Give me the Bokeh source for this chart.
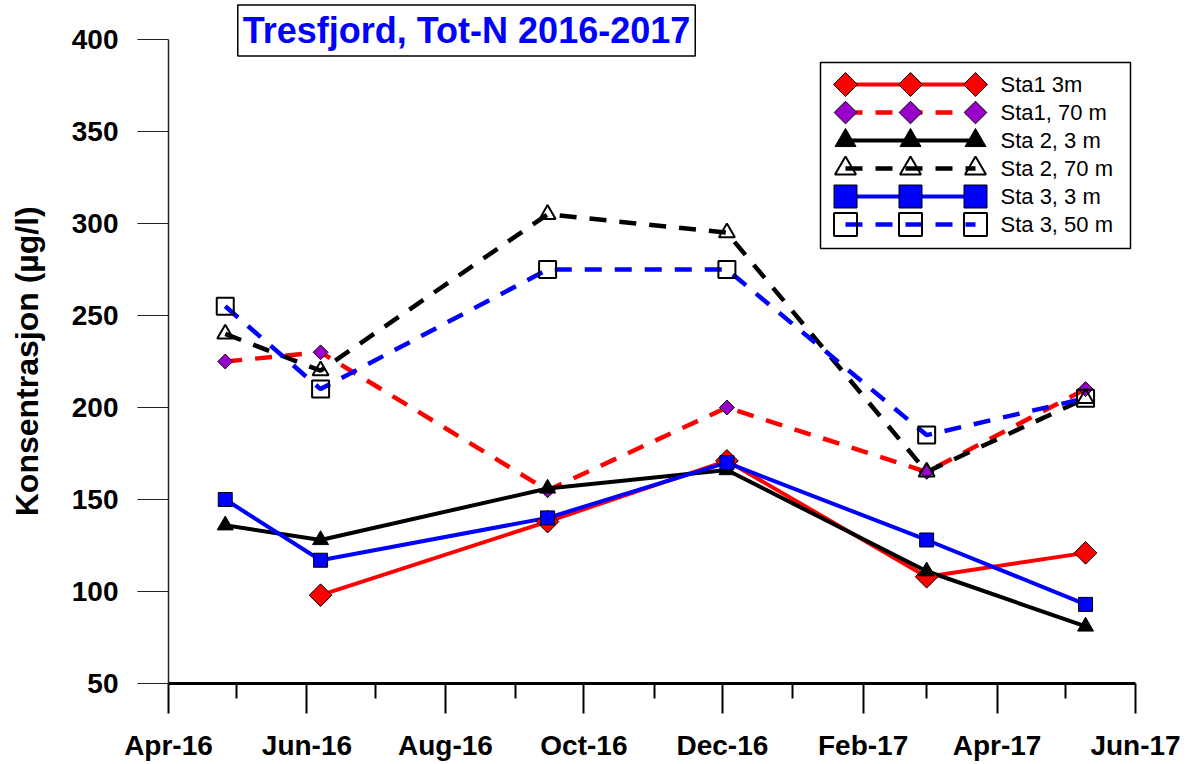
import numpy as np
from bokeh.plotting import figure
from bokeh.models import Range1d, FixedTicker, DatetimeTickFormatter, Label
from bokeh.core.properties import value
from bokeh.embed import file_html
from bokeh.resources import INLINE

# ---------------- data ----------------
sample_dates = ["2016-04-26", "2016-06-07", "2016-09-15", "2016-12-03", "2017-03-01", "2017-05-10"]
sta1_3m = [np.nan, 98, 138, 171, 108, 121]
sta1_70m = [225, 230, 155, 200, 165, 210]
sta2_3m = [136, 128, 156, 166, 111, 81]
sta2_70m = [240, 220, 305, 295, 165, 205]
sta3_3m = [150, 117, 140, 170, 128, 93]
sta3_50m = [255, 210, 275, 275, 185, 205]
series_names = ["Sta1 3m", "Sta1, 70 m", "Sta 2, 3 m", "Sta 2, 70 m", "Sta 3, 3 m", "Sta 3, 50 m"]
major_tick_dates = ["2016-04-01", "2016-06-01", "2016-08-01", "2016-10-01",
                    "2016-12-01", "2017-02-01", "2017-04-01", "2017-06-01"]
minor_tick_dates = ["2016-05-01", "2016-07-01", "2016-09-01", "2016-11-01",
                    "2017-01-01", "2017-03-01", "2017-05-01"]
y_ticks = [50, 100, 150, 200, 250, 300, 350, 400]
title_text = "Tresfjord, Tot-N 2016-2017"
y_label = "Konsentrasjon (µg/l)"


def to_ms(s):
    return float(np.datetime64(s, "ms").astype("int64"))


x = [to_ms(d) for d in sample_dates]

# ---------------- layout ----------------
W, H = 1186, 764
BL, BR, BT, BB = 168, 51, 3, 81
FW, FH = W - BL - BR, H - BT - BB
AXIS_PX = 644                      # pixel height of the 50..400 axis
FONT = "Liberation Sans"
y_lo, y_hi = y_ticks[0], y_ticks[-1]
y_top = y_lo + (y_hi - y_lo) * FH / AXIS_PX   # extra head-room for the title box

p = figure(width=W, height=H, output_backend="svg", toolbar_location=None,
           x_axis_type="datetime",
           x_range=Range1d(to_ms(major_tick_dates[0]), to_ms(major_tick_dates[-1])),
           y_range=Range1d(y_lo, y_top),
           min_border_left=BL, min_border_right=BR, min_border_top=BT, min_border_bottom=BB)
p.outline_line_color = None
p.xgrid.visible = False
p.ygrid.visible = False
p.background_fill_color = "white"
p.border_fill_color = "white"

xa = p.xaxis[0]
xa.ticker = FixedTicker(ticks=[to_ms(d) for d in major_tick_dates],
                        minor_ticks=[to_ms(d) for d in minor_tick_dates])
fmt = "%b-%y"
xa.formatter = DatetimeTickFormatter(days=fmt, months=fmt, years=fmt, hours=fmt,
                                     hourmin=fmt, minutes=fmt, minsec=fmt, seconds=fmt,
                                     milliseconds=fmt, microseconds=fmt)
xa.axis_line_width = 3
xa.axis_line_color = "black"
xa.major_tick_line_width = 2
xa.minor_tick_line_width = 2
xa.major_tick_in = 0
xa.major_tick_out = 30
xa.minor_tick_in = 0
xa.minor_tick_out = 15
xa.major_label_standoff = 16
xa.major_label_text_font = FONT
xa.major_label_text_font_style = "bold"
xa.major_label_text_font_size = "28px"
xa.major_label_text_color = "black"

ya = p.yaxis[0]
ya.bounds = (y_lo, y_hi)
ya.ticker = FixedTicker(ticks=y_ticks)
ya.axis_line_width = 1.5
ya.axis_line_color = "#222222"
ya.major_tick_in = 0
ya.major_tick_out = 31
ya.major_tick_line_width = 1.2
ya.major_tick_line_color = "#222222"
ya.minor_tick_line_color = None
ya.major_label_standoff = 19
ya.major_label_text_font = FONT
ya.major_label_text_font_style = "bold"
ya.major_label_text_font_size = "28px"
ya.major_label_text_color = "black"
# trailing no-break spaces re-centre the label on the 50..400 axis span (frame is taller)
ya.axis_label = y_label + "\u00a0" * 4
ya.axis_label_text_font = FONT
ya.axis_label_text_font_style = "bold"
ya.axis_label_text_font_size = "32px"
ya.axis_label_text_color = "black"
ya.axis_label_standoff = 24

# ---------------- series ----------------
DASH = "17 13"
styles = [
    dict(vals=sta1_3m, color="#FF0000", dash="solid", marker="square", angle=np.pi / 4,
         fill="#FF0000", size=16, lsize=17),
    dict(vals=sta1_70m, color="#FF0000", dash=DASH, marker="square", angle=np.pi / 4,
         fill="#9900CC", size=10.5, lsize=16),
    dict(vals=sta2_3m, color="#000000", dash="solid", marker="triangle", angle=0,
         fill="#000000", size=16, lsize=21),
    dict(vals=sta2_70m, color="#000000", dash=DASH, marker="triangle", angle=0,
         fill=None, size=16, lsize=21),
    dict(vals=sta3_3m, color="#0000FF", dash="solid", marker="square", angle=0,
         fill="#0000FF", size=14, lsize=23),
    dict(vals=sta3_50m, color="#0000FF", dash=DASH, marker="square", angle=0,
         fill=None, size=17, lsize=23),
]

for st in styles:
    p.line(x, st["vals"], line_color=st["color"], line_width=4.5 if st["dash"] != "solid" else 4,
           line_dash=st["dash"])
for st in styles:
    open_marker = st["fill"] is None
    p.scatter(x, st["vals"], marker=st["marker"], size=st["size"], angle=st["angle"],
              fill_color=st["fill"], line_color="black",
              line_width=2 if open_marker else 1)

# ---------------- legend (drawn in page-pixel space) ----------------
p.extra_x_ranges["px"] = Range1d(BL, BL + FW)
p.extra_y_ranges["px"] = Range1d(BT + FH, BT)
p.quad(left=820, right=1130, top=62, bottom=248, x_range_name="px", y_range_name="px",
       fill_color="white", line_color="black", line_width=1.5)
gx = [845, 910, 975]
row_y = [84 + 28 * i for i in range(len(series_names))]
for ry, st in zip(row_y, styles):
    p.line(gx, [ry] * 3, x_range_name="px", y_range_name="px",
           line_color=st["color"], line_width=4.5 if st["dash"] != "solid" else 4,
           line_dash=st["dash"])
    open_marker = st["fill"] is None
    p.scatter(gx, [ry] * 3, x_range_name="px", y_range_name="px",
              marker=st["marker"], size=st["lsize"], angle=st["angle"],
              fill_color=st["fill"], line_color="black",
              line_width=2 if open_marker else 1)
p.text(x=[1000] * len(series_names), y=row_y,
       text=series_names, x_range_name="px", y_range_name="px",
       text_font=value(FONT), text_font_size="22px", text_baseline="middle",
       text_align="left", text_color="black")

# ---------------- title box ----------------
shadow = Label(x=300, y=650, x_units="screen", y_units="screen", text=title_text,
               text_align="center", text_baseline="middle", text_font=FONT,
               text_font_style="bold", text_font_size="36px", text_alpha=0,
               background_fill_color="#808080", padding=5)
p.add_layout(shadow)
title = Label(x=298, y=653, x_units="screen", y_units="screen", text=title_text,
              text_align="center", text_baseline="middle", text_font=FONT,
              text_font_style="bold", text_font_size="36px", text_color="#0000FF",
              background_fill_color="white", border_line_color="black",
              border_line_width=1.5, padding=5)
p.add_layout(title)

open("out.html", "w").write(file_html(p, INLINE))
